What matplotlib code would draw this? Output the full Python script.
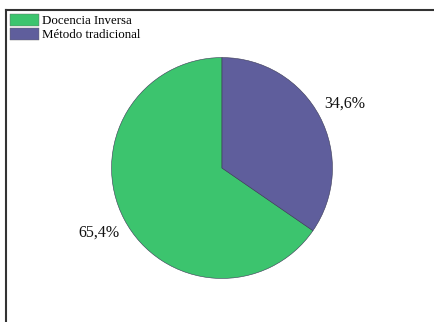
import matplotlib.pyplot as plt
from matplotlib.patches import Patch

categorias = ['Docencia Inversa', 'Método tradicional']
porcentajes = [65.4, 34.6]
colores = ['#3cc46e', '#5f5e9c']

plt.rcParams['font.family'] = ['Liberation Serif', 'DejaVu Serif']

fig = plt.figure(figsize=(4.35, 3.22), dpi=100)
fig.patch.set_facecolor('white')

# marco: solo borde superior e izquierdo
marco = fig.add_axes([6 / 435, 0, 1 - 6 / 435, 1 - 10 / 322])
marco.set_xticks([])
marco.set_yticks([])
marco.spines['right'].set_visible(False)
marco.spines['bottom'].set_visible(False)
for lado in ('left', 'top'):
    marco.spines[lado].set_color('#333333')
    marco.spines[lado].set_linewidth(1.5)
marco.patch.set_alpha(0)

ax = fig.add_axes([111 / 435, 43 / 322, 222 / 435, 222 / 322])
wedges, textos, pcts = ax.pie(
    porcentajes, colors=colores, startangle=90, counterclock=True,
    autopct=lambda p: f'{p:.1f}%'.replace('.', ','), pctdistance=1.26,
    wedgeprops={'edgecolor': '#3a3a55', 'linewidth': 0.4},
)
for t in pcts:
    t.set_fontsize(11.5)
    t.set_color('#111111')
ax.set_xlim(-1.005, 1.005)
ax.set_ylim(-1.005, 1.005)

handles = [Patch(facecolor=c, edgecolor='#666666', linewidth=0.3) for c in colores]
fig.legend(handles, categorias, loc='upper left', bbox_to_anchor=(0.019, 0.962),
           frameon=False, fontsize=9.3, handlelength=2.25, handleheight=1.05,
           handletextpad=0.3, labelspacing=0.08, borderaxespad=0, borderpad=0.1)

fig.savefig('out.png', dpi=100)
